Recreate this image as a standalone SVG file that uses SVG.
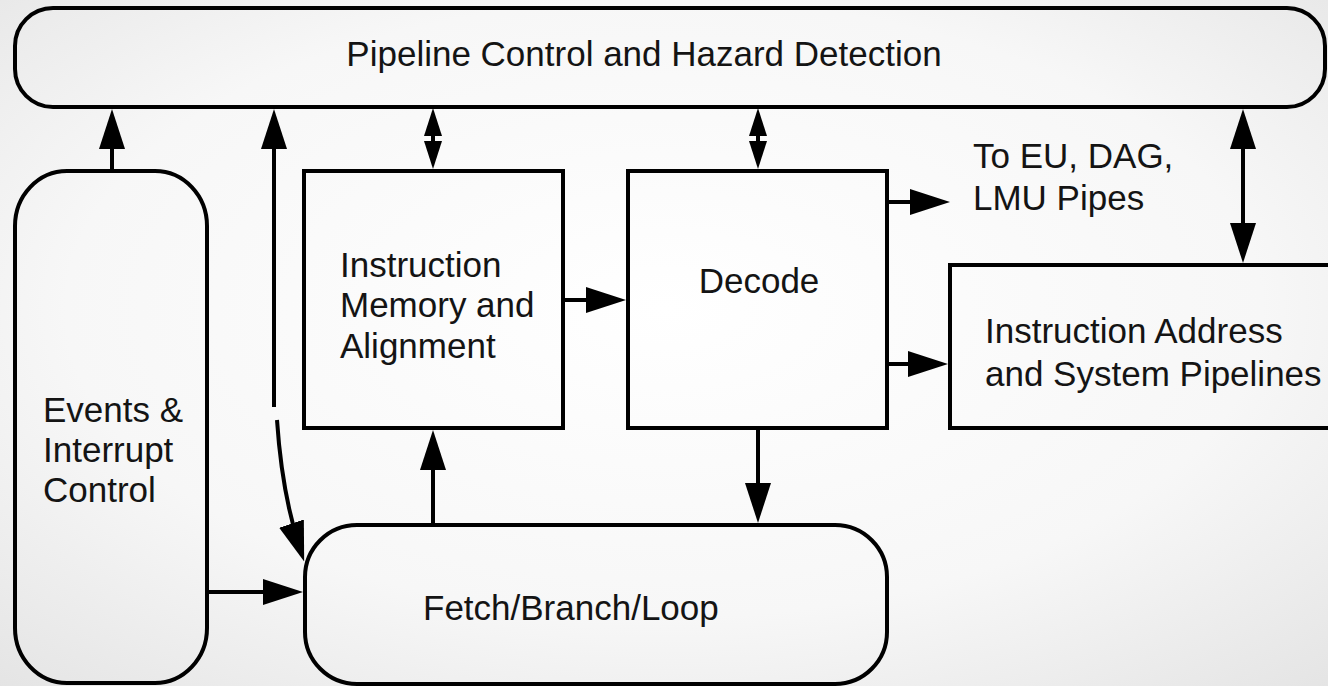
<svg xmlns="http://www.w3.org/2000/svg" width="1328" height="686" viewBox="0 0 1328 686">
<defs>
<radialGradient id="bg" cx="50%" cy="45%" r="75%">
<stop offset="0" stop-color="#ffffff"/>
<stop offset="0.6" stop-color="#f7f7f7"/>
<stop offset="1" stop-color="#e4e4e4"/>
</radialGradient>
<marker id="big" markerUnits="userSpaceOnUse" markerWidth="40" markerHeight="26" viewBox="0 0 40 26" refX="30" refY="13" orient="auto-start-reverse">
<path d="M0,0 L40,13 L0,26 z" fill="#000"/>
</marker>
<marker id="small" markerUnits="userSpaceOnUse" markerWidth="28" markerHeight="18" viewBox="0 0 28 18" refX="20" refY="9" orient="auto-start-reverse">
<path d="M0,0 L28,9 L0,18 z" fill="#000"/>
</marker>
<style>
.box{fill:none;stroke:#000;stroke-width:4}
.c{fill:none;stroke:#000;stroke-width:4}
.t{font-family:"Liberation Sans",Arial,sans-serif;font-size:35px;fill:#141414}
</style>
</defs>
<rect x="0" y="0" width="1328" height="686" fill="url(#bg)"/>

<g id="pipeline-control">
<rect class="box" x="15" y="8" width="1310" height="99" rx="38" ry="38"/>
<text class="t" x="644" y="66" text-anchor="middle">Pipeline Control and Hazard Detection</text>
</g>

<g id="events">
<rect class="box" x="15" y="171" width="192" height="512" rx="52" ry="55"/>
<text class="t" x="43" y="422">Events &amp;</text>
<text class="t" x="43" y="462">Interrupt</text>
<text class="t" x="43" y="502">Control</text>
</g>

<g id="instr-mem">
<rect class="box" x="304" y="171" width="259" height="257"/>
<text class="t" x="340" y="277">Instruction</text>
<text class="t" x="340" y="317">Memory and</text>
<text class="t" x="340" y="358">Alignment</text>
</g>

<g id="decode">
<rect class="box" x="628" y="171" width="259" height="257"/>
<text class="t" x="759" y="293" text-anchor="middle">Decode</text>
</g>

<g id="instr-addr">
<rect class="box" x="950" y="265" width="400" height="163"/>
<text class="t" x="985" y="343">Instruction Address</text>
<text class="t" x="985" y="386">and System Pipelines</text>
</g>

<g id="fetch">
<rect class="box" x="305" y="525" width="582" height="159" rx="52" ry="52"/>
<text class="t" x="423" y="620">Fetch/Branch/Loop</text>
</g>

<g id="to-eu-label">
<text class="t" x="973" y="168">To EU, DAG,</text>
<text class="t" x="973" y="210">LMU Pipes</text>
</g>

<g id="connectors">
<!-- Events -> Pipeline control -->
<line class="c" x1="112" y1="171" x2="112" y2="119" marker-end="url(#big)"/>
<!-- vertical line to Pipeline control -->
<line class="c" x1="274" y1="407" x2="274" y2="119" marker-end="url(#big)"/>
<!-- curve to Fetch -->
<path class="c" d="M277,420 Q282,495 301,552" marker-end="url(#big)"/>
<!-- Events -> Fetch -->
<line class="c" x1="207" y1="592" x2="293" y2="592" marker-end="url(#big)"/>
<!-- Pipeline <-> Instr mem -->
<line class="c" x1="433" y1="116" x2="433" y2="161" marker-start="url(#small)" marker-end="url(#small)"/>
<!-- Pipeline <-> Decode -->
<line class="c" x1="758" y1="116" x2="758" y2="161" marker-start="url(#small)" marker-end="url(#small)"/>
<!-- Pipeline <-> Instr addr -->
<line class="c" x1="1243" y1="119" x2="1243" y2="253" marker-start="url(#big)" marker-end="url(#big)"/>
<!-- Instr mem -> Decode -->
<line class="c" x1="563" y1="300" x2="616" y2="300" marker-end="url(#big)"/>
<!-- Decode -> To EU -->
<line class="c" x1="887" y1="202" x2="940" y2="202" marker-end="url(#big)"/>
<!-- Decode -> Instr addr -->
<line class="c" x1="887" y1="364" x2="938" y2="364" marker-end="url(#big)"/>
<!-- Decode -> Fetch -->
<line class="c" x1="758" y1="428" x2="758" y2="513" marker-end="url(#big)"/>
<!-- Fetch -> Instr mem -->
<line class="c" x1="433" y1="525" x2="433" y2="440" marker-end="url(#big)"/>
</g>
</svg>
